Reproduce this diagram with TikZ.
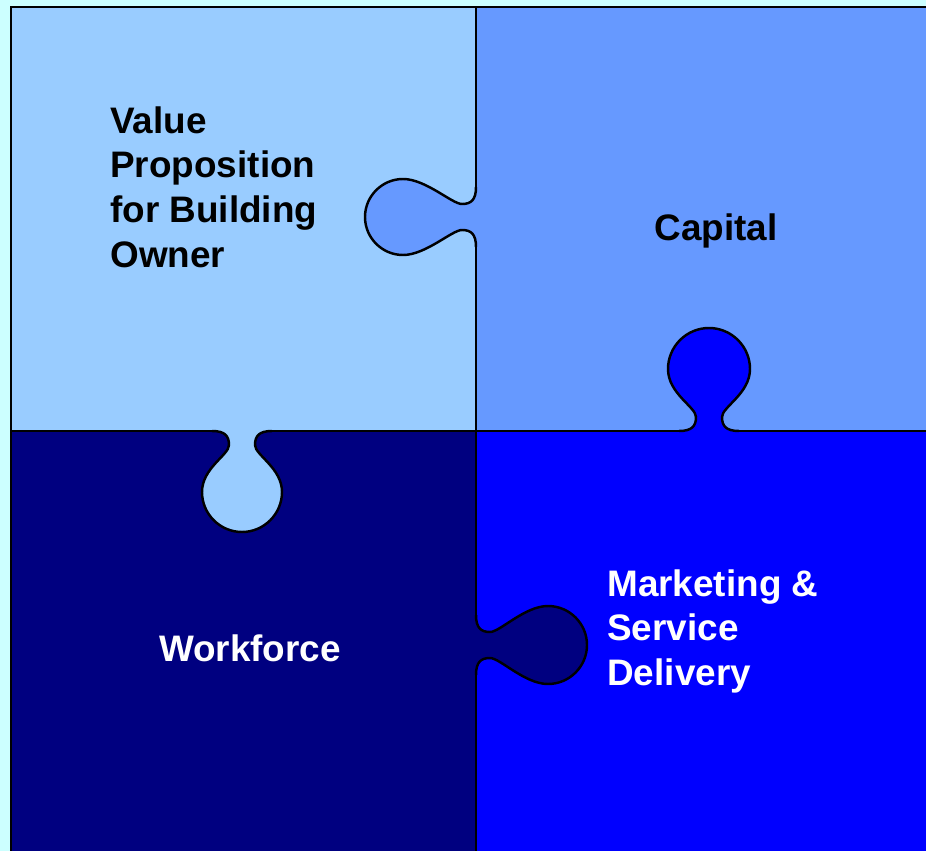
\documentclass[tikz,border=0pt]{standalone}
\usepackage{fontspec}
\setmainfont{Liberation Sans}
\usepackage{tikz}
\usepackage{color}

\definecolor{paleCyan}{HTML}{CCFFFF}
\definecolor{skyPiece}{HTML}{99CCFF}
\definecolor{cornPiece}{HTML}{6699FF}
\definecolor{navyPiece}{HTML}{000080}
\definecolor{bluePiece}{HTML}{0000FF}

% one knob of a puzzle piece: #1 = distance of the bulb, #2 = bulb radius
\newcommand{\tabpath}[2]{(-30,0) .. controls (-17,0) and (-13,5) .. (-13,14)
  .. controls (-13,24) and (-#2,{#1-0.6*#2}) .. (-#2,#1)
  .. controls (-#2,{#1+0.55*#2}) and ({-0.55*#2},{#1+#2}) .. (0,{#1+#2})
  .. controls ({0.55*#2},{#1+#2}) and (#2,{#1+0.55*#2}) .. (#2,#1)
  .. controls (#2,{#1-0.6*#2}) and (13,24) .. (13,14)
  .. controls (13,5) and (17,0) .. (30,0)}

\tikzset{
  cut/.style={black, line width=1.4pt},
  piecetext/.style={font=\bfseries\fontsize{21}{25.5}\selectfont, inner sep=0, align=left}
}

\begin{document}
\begin{tikzpicture}[x=0.02cm, y=-0.02cm]

\useasboundingbox (0,0) rectangle (926,851);
\fill[paleCyan] (0,0) rectangle (926,851);

\fill[skyPiece]  (11,7) rectangle (476,431);
\fill[cornPiece] (476,7) rectangle (926,431);
\fill[navyPiece] (11,431) rectangle (476,851);
\fill[bluePiece] (476,431) rectangle (926,851);

\foreach \px/\py/\ang/\d/\r/\col in {476/217/-90/73/38/cornPiece, 242/431/0/61/40/skyPiece,
                                     709/431/180/62/41/bluePiece, 476/645/90/72/39/navyPiece}
{
  \begin{scope}[shift={(\px,\py)}, rotate=\ang]
    \fill[\col] \tabpath{\d}{\r} -- cycle;
    \draw[cut] \tabpath{\d}{\r};
  \end{scope}
}

\draw[cut] (476,7) -- (476,187);
\draw[cut] (476,247) -- (476,615);
\draw[cut] (476,675) -- (476,851);
\draw[cut] (11,431) -- (212,431);
\draw[cut] (272,431) -- (679,431);
\draw[cut] (739,431) -- (926,431);

\draw[black, line width=1.2pt] (11,851) -- (11,7) -- (926,7);

\node[piecetext, anchor=north west] (valueText) at (110,106) {Value\\Proposition\\for Building\\Owner};
\node[piecetext, anchor=base] (capitalText) at (716,240) {Capital};
\node[piecetext, anchor=base, white] (workforceText) at (250,661) {Workforce};
\node[piecetext, anchor=north west, white] (marketingText) at (607,569) {Marketing \&\\Service\\Delivery};

\end{tikzpicture}
\end{document}
